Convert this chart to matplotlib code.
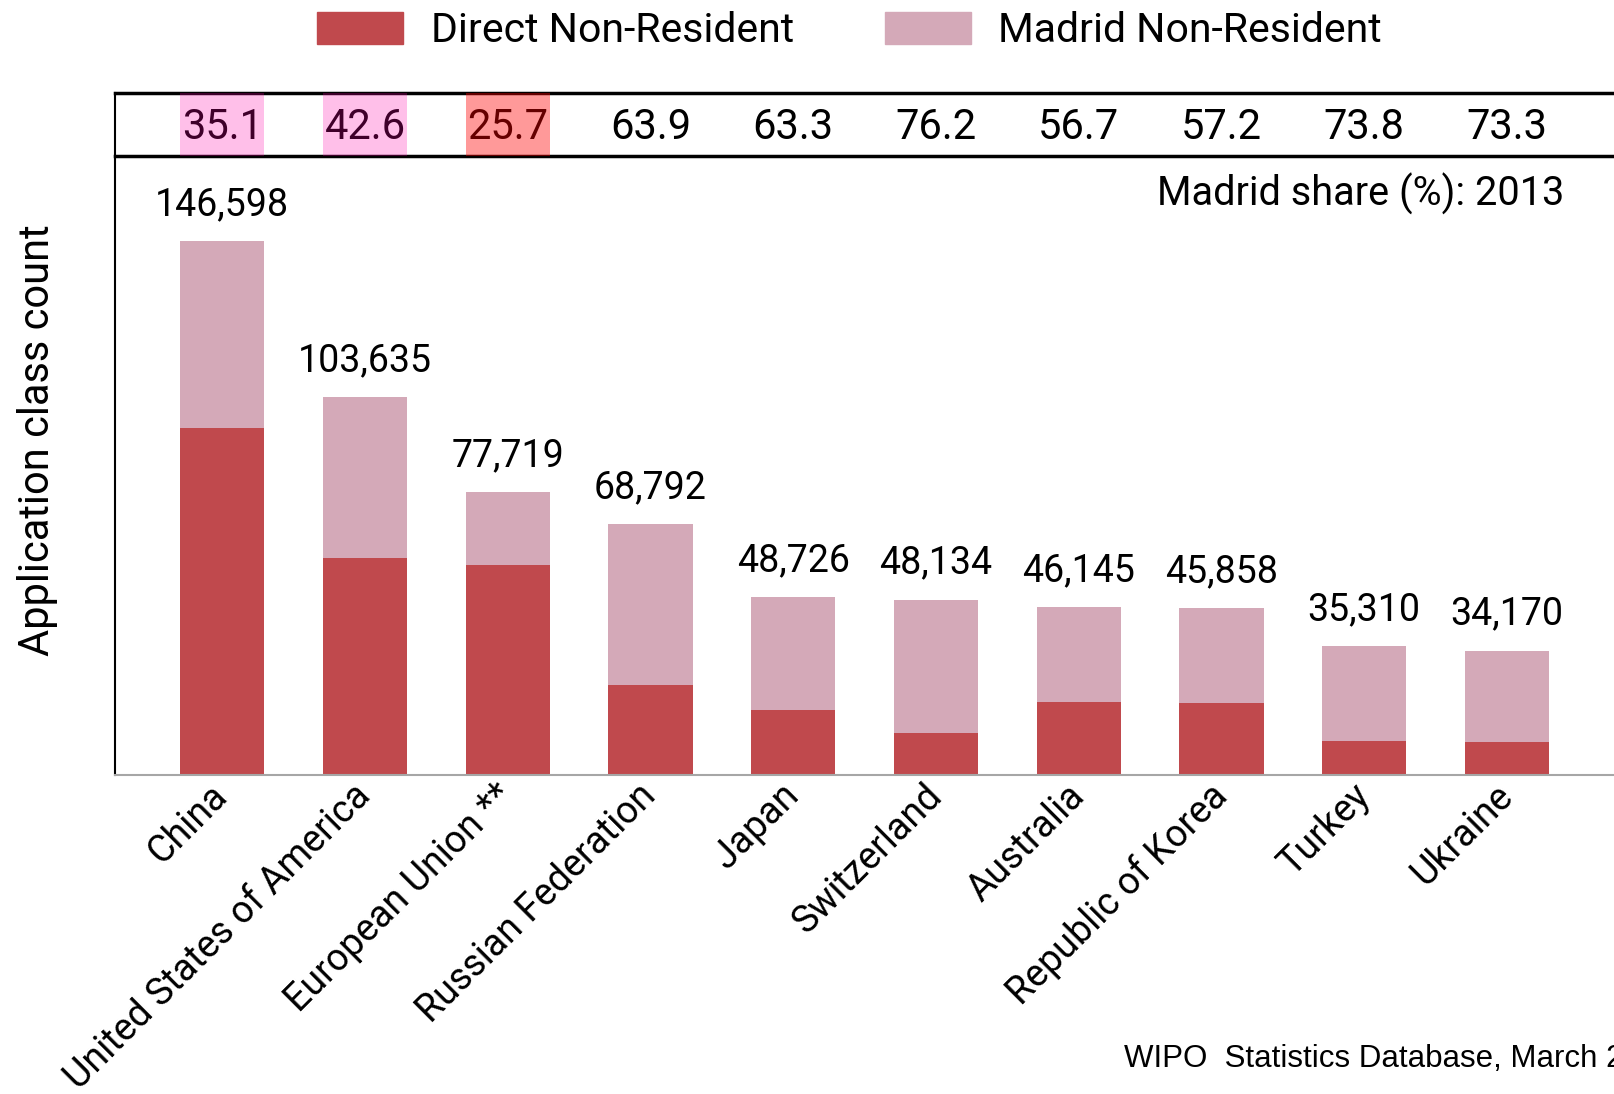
import matplotlib.pyplot as plt
from matplotlib.patches import Patch

countries = ["China", "United States of America", "European Union **", "Russian Federation",
             "Japan", "Switzerland", "Australia", "Republic of Korea", "Turkey", "Ukraine"]
totals = [146598, 103635, 77719, 68792, 48726, 48134, 46145, 45858, 35310, 34170]
madrid_share = [35.1, 42.6, 25.7, 63.9, 63.3, 76.2, 56.7, 57.2, 73.8, 73.3]
direct = [95142, 59486, 57745, 24834, 17882, 11456, 19981, 19627, 9251, 9123]
madrid = [51456, 44149, 19974, 43958, 30844, 36678, 26164, 26231, 26059, 25047]
# highlighted share cells (colour, alpha)
highlight = {0: ("#ff00aa", 0.25), 1: ("#ff00aa", 0.25), 2: ("#ff0000", 0.4)}

RED = "#c0494d"
PINK = "#d4a9b8"
plt.rcParams['font.family'] = ['Roboto', 'DejaVu Sans']

fig = plt.figure(figsize=(16.14, 10.94), dpi=100)
ax = fig.add_axes([0.0714, 0.2916, 0.9286, 0.5654])
band = fig.add_axes([0.0714, 0.857, 0.9286, 0.0584])

x = list(range(len(countries)))
w = 0.59
ax.bar(x, direct, w, color=RED, label="Direct Non-Resident")
ax.bar(x, madrid, w, bottom=direct, color=PINK, label="Madrid Non-Resident")

for i, t in enumerate(totals):
    ax.annotate(f"{t:,}", (i, t), xytext=(0, 13), textcoords="offset points",
                ha="center", va="bottom", fontsize=27)

ax.set_xlim(-0.75, len(countries) - 0.25)
ax.set_ylim(0, 169800)
ax.set_yticks([])
ax.set_xticks(x)
ax.set_xticklabels(countries, rotation=45, ha="right", va="center",
                   rotation_mode="anchor", fontsize=27)
ax.tick_params(axis="x", length=0, pad=11)
ax.spines[["top", "right"]].set_visible(False)
ax.spines["left"].set_color("black")
ax.spines["left"].set_linewidth(1.5)
ax.spines["bottom"].set_color("#a6a6a6")
ax.spines["bottom"].set_linewidth(1.5)
ax.text(0.967, 0.94, "Madrid share (%): 2013", transform=ax.transAxes,
        ha="right", va="center", fontsize=28.5)

# Madrid share band
band.set_xlim(ax.get_xlim())
band.set_ylim(0, 1)
band.set_xticks([])
band.set_yticks([])
band.spines["right"].set_visible(False)
band.spines["top"].set_linewidth(2.5)
band.spines["bottom"].set_linewidth(2.5)
band.spines["left"].set_linewidth(1.5)
for i, s in enumerate(madrid_share):
    band.text(i, 0.45, f"{s:.1f}", ha="center", va="center", fontsize=30)
for i, (c, a) in highlight.items():
    band.bar(i, 1, w, bottom=0, color=c, alpha=a, zorder=5)

fig.text(0.023, 0.598, "Application class count", rotation=90, ha="center",
         va="center", fontsize=30)

handles = [Patch(color=RED), Patch(color=PINK)]
fig.legend(handles, ["Direct Non-Resident", "Madrid Non-Resident"], loc="center",
           bbox_to_anchor=(0.5265, 0.972), ncol=2, frameon=False, fontsize=29.5,
           handlelength=2.1, handleheight=0.8, handletextpad=0.68,
           columnspacing=2.2, borderpad=0)

fig.text(0.6964, 0.0247, "WIPO  Statistics Database, March 2014",
         family=["Liberation Sans", "DejaVu Sans"], fontsize=22.5,
         ha="left", va="baseline")

fig.savefig("out.png", dpi=100)
